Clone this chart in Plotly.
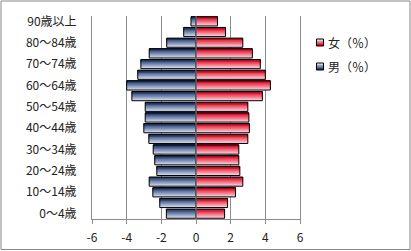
import plotly.graph_objects as go

# ---- data ----
age_groups = ["0～4歳", "5～9歳", "10～14歳", "15～19歳", "20～24歳", "25～29歳",
              "30～34歳", "35～39歳", "40～44歳", "45～49歳", "50～54歳", "55～59歳",
              "60～64歳", "65～69歳", "70～74歳", "75～79歳", "80～84歳", "85～89歳",
              "90歳以上"]
male_pct = [-1.71, -2.09, -2.49, -2.70, -2.26, -2.38, -2.47, -2.72, -3.01, -2.93,
            -2.93, -3.70, -4.00, -3.36, -3.18, -2.70, -1.69, -0.71, -0.29]
female_pct = [1.65, 1.82, 2.28, 2.70, 2.53, 2.47, 2.47, 2.99, 3.08, 3.05,
              2.99, 3.83, 4.29, 4.00, 3.71, 3.25, 2.70, 1.70, 1.24]
x_ticks = [-6, -4, -2, 0, 2, 4, 6]
x_tick_labels = ["-6", "-4", "-2", "0", "2", "4", "6"]
legend_names = ["女（％）", "男（％）"]

# ---- layout geometry ----
W, H = 411, 251
ML, MR, MT, MB = 92, 111, 16, 32
PW, PH = W - ML - MR, H - MT - MB
FONT = "Noto Sans CJK JP, Noto Sans, sans-serif"
GRID = "#8c8c8c"

def px_x(x):
    return (x - ML) / PW

def px_y(y):
    return (H - MB - y) / PH

def lerp(c1, c2, t):
    return "rgb(%d,%d,%d)" % tuple(round(a + (b - a) * t) for a, b in zip(c1, c2))

RED_TOP, RED_BOT = (214, 0, 28), (246, 214, 222)
BLUE_TOP, BLUE_BOT = (28, 52, 104), (212, 220, 236)

BAR_W = 0.86
TOP = BAR_W / 2
N = 10

fig = go.Figure()

def add_series(values, top, bot):
    for k in range(N):
        w = BAR_W * (N - k) / N
        t = k / (N - 1)
        fig.add_trace(go.Bar(
            y=age_groups, x=values, orientation="h",
            width=w, offset=TOP - w,
            marker=dict(color=lerp(bot, top, t), line=dict(width=0)),
            showlegend=False, hoverinfo="skip"))
    fig.add_trace(go.Bar(
        y=age_groups, x=values, orientation="h",
        width=BAR_W, offset=-TOP,
        marker=dict(color="rgba(0,0,0,0)", line=dict(color="#000", width=1)),
        showlegend=False, hoverinfo="x+y"))

add_series(male_pct, BLUE_TOP, BLUE_BOT)
add_series(female_pct, RED_TOP, RED_BOT)

shapes = [
    # zero (category axis) line over bars
    dict(type="line", xref="x", yref="paper", x0=0, x1=0, y0=0, y1=1,
         line=dict(color=GRID, width=1), layer="above"),
    # chart border
    dict(type="rect", xref="paper", yref="paper",
         x0=px_x(1), x1=px_x(410), y0=px_y(249.5), y1=px_y(1),
         line=dict(color="#868686", width=1), fillcolor="rgba(0,0,0,0)", layer="below"),
]

annotations = []
legend_rows = [(42.5, RED_TOP, RED_BOT), (66.5, BLUE_TOP, BLUE_BOT)]
for name, (cy, top, bot) in zip(legend_names, legend_rows):
    for k in range(4):
        y0 = cy + 3.5 - 7 * (4 - k) / 4
        shapes.append(dict(type="rect", xref="paper", yref="paper",
                           x0=px_x(316.5), x1=px_x(323.5),
                           y0=px_y(cy + 3.5), y1=px_y(y0),
                           line=dict(width=0), fillcolor=lerp(bot, top, k / 3), layer="above"))
    shapes.append(dict(type="rect", xref="paper", yref="paper",
                       x0=px_x(316.5), x1=px_x(323.5), y0=px_y(cy + 3.5), y1=px_y(cy - 3.5),
                       line=dict(color="#000", width=1), fillcolor="rgba(0,0,0,0)", layer="above"))
    annotations.append(dict(text=name, xref="paper", yref="paper",
                            x=px_x(325.5), y=px_y(cy), xanchor="left", yanchor="middle",
                            showarrow=False, font=dict(family=FONT, size=12, color="#222")))

fig.update_layout(
    width=W, height=H,
    margin=dict(l=ML, r=MR, t=MT, b=MB, pad=0, autoexpand=False),
    paper_bgcolor="white", plot_bgcolor="white",
    barmode="overlay", showlegend=False,
    font=dict(family=FONT, size=12, color="#222"),
    shapes=shapes, annotations=annotations,
    xaxis=dict(range=[-6, 6], tickvals=x_ticks, ticktext=x_tick_labels,
               showgrid=True, gridcolor=GRID, gridwidth=1, zeroline=False,
               showline=True, linecolor=GRID, linewidth=1, automargin=False,
               ticks="outside", ticklen=4, tickcolor=GRID, ticklabelstandoff=4,
               tickfont=dict(family=FONT, size=12, color="#222"), fixedrange=True),
    yaxis=dict(type="category", categoryorder="array", categoryarray=age_groups,
               range=[-0.5, len(age_groups) - 0.5],
               tickvals=age_groups[::2], ticktext=age_groups[::2],
               showgrid=False, zeroline=False, automargin=False,
               showline=True, mirror=True, linecolor=GRID, linewidth=1, ticks="",
               ticklabelstandoff=12,
               tickfont=dict(family=FONT, size=12, color="#222"), fixedrange=True),
)

fig.write_html("out.html")
